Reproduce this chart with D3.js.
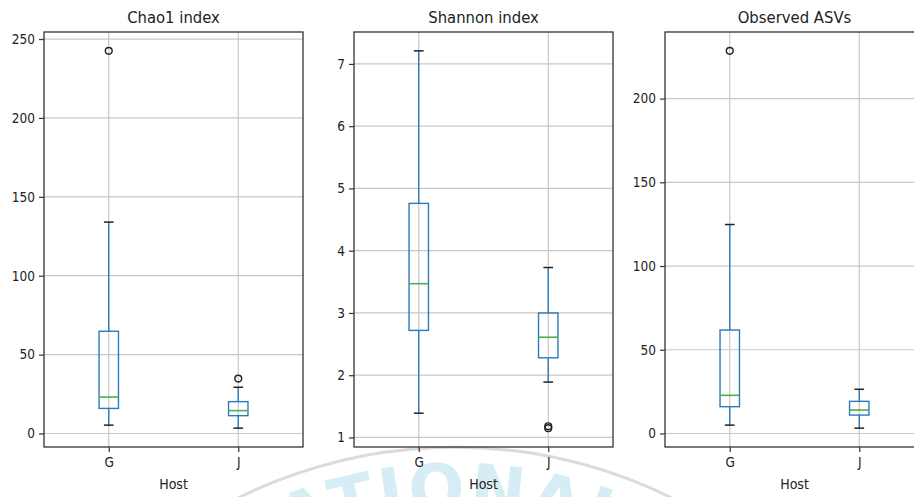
<!DOCTYPE html>
<html>
<head>
<meta charset="utf-8">
<script src="https://cdn.jsdelivr.net/npm/d3@7"></script>
<style>
  html, body { margin: 0; padding: 0; background: #fff; }
  svg { display: block; }
  text { font-family: "DejaVu Sans", sans-serif; font-stretch: condensed; }
</style>
</head>
<body>
<svg id="chart" width="914" height="497"></svg>
<script>
// Alpha-diversity by host: three box-plot panels.
const hosts = ["G", "J"];
const xLabel = "Host";
const panelTitles = ["Chao1 index", "Shannon index", "Observed ASVs"];

// Per host: [lower whisker, Q1, median, Q3, upper whisker]
const chao1Boxes = [[5.3, 15.9, 23.1, 64.8, 134.0], [3.4, 11.3, 14.5, 20.2, 29.3]];
const chao1Outliers = [[242.5], [34.8]];
const chao1Ticks = [0, 50, 100, 150, 200, 250];

const shannonBoxes = [[1.39, 2.72, 3.47, 4.76, 7.21], [1.89, 2.28, 2.61, 3.00, 3.73]];
const shannonOutliers = [[], [1.15, 1.18]];
const shannonTicks = [1, 2, 3, 4, 5, 6, 7];

const asvBoxes = [[5.0, 16.0, 22.8, 61.8, 124.8], [3.2, 11.0, 14.0, 19.2, 26.4]];
const asvOutliers = [[228.5], []];
const asvTicks = [0, 50, 100, 150, 200];

const panels = [
  { title: panelTitles[0], boxes: chao1Boxes, outliers: chao1Outliers, ticks: chao1Ticks },
  { title: panelTitles[1], boxes: shannonBoxes, outliers: shannonOutliers, ticks: shannonTicks },
  { title: panelTitles[2], boxes: asvBoxes, outliers: asvOutliers, ticks: asvTicks }
];

const svg = d3.select("#chart");

// Faint emblem in the background
const wm = svg.append("g").attr("class", "emblem");
const cx = 455, cy = 935;
wm.append("path")
  .attr("d", `M ${cx - 488},${cy} A 488 488 0 0 1 ${cx + 488},${cy}`)
  .attr("fill", "none")
  .attr("stroke", "#d2d2d2")
  .attr("stroke-width", 3)
  .attr("opacity", 0.8);
wm.append("path")
  .attr("id", "emblem-text-arc")
  .attr("d", `M ${cx - 424},${cy} A 424 424 0 0 1 ${cx + 424},${cy}`)
  .attr("fill", "none");
wm.append("text")
  .attr("font-size", 66)
  .attr("font-weight", "bold")
  .style("font-stretch", "normal")
  .attr("letter-spacing", 3)
  .attr("fill", "#d6edf5")
  .append("textPath")
  .attr("href", "#emblem-text-arc")
  .attr("startOffset", "50%")
  .attr("text-anchor", "middle")
  .text("ATIONAL");

const panelLefts = [44, 354, 665];
const panelWidth = 259;
const plotTop = 32, plotBottom = 447;
const boxWidth = 0.15, capWidth = 0.075;

const boxColor = "#2a7bbb", medianColor = "#4aae4a", capColor = "#222";

panels.forEach((p, i) => {
  const left = panelLefts[i];
  const g = svg.append("g");

  const x = d3.scaleLinear().domain([0.5, 2.5]).range([left, left + panelWidth]);

  const all = p.boxes.flat().concat(p.outliers.flat());
  const lo = d3.min(all), hi = d3.max(all), pad = (hi - lo) * 0.05;
  const y = d3.scaleLinear().domain([lo - pad, hi + pad]).range([plotBottom, plotTop]);

  // grid
  g.append("g").selectAll("line").data(p.ticks).join("line")
    .attr("x1", left).attr("x2", left + panelWidth)
    .attr("y1", d => y(d)).attr("y2", d => y(d))
    .attr("stroke", "#c8c8c8").attr("stroke-width", 1.2);
  g.append("g").selectAll("line").data(hosts).join("line")
    .attr("x1", (d, k) => x(k + 1)).attr("x2", (d, k) => x(k + 1))
    .attr("y1", plotTop).attr("y2", plotBottom)
    .attr("stroke", "#c8c8c8").attr("stroke-width", 1.2);

  // boxes
  p.boxes.forEach((b, k) => {
    const pos = k + 1;
    const [wl, q1, med, q3, wh] = b;
    const bx = g.append("g");
    bx.append("line").attr("x1", x(pos)).attr("x2", x(pos)).attr("y1", y(q3)).attr("y2", y(wh))
      .attr("stroke", boxColor).attr("stroke-width", 1.4);
    bx.append("line").attr("x1", x(pos)).attr("x2", x(pos)).attr("y1", y(q1)).attr("y2", y(wl))
      .attr("stroke", boxColor).attr("stroke-width", 1.4);
    [wl, wh].forEach(v => {
      bx.append("line")
        .attr("x1", x(pos - capWidth / 2)).attr("x2", x(pos + capWidth / 2))
        .attr("y1", y(v)).attr("y2", y(v))
        .attr("stroke", capColor).attr("stroke-width", 1.5);
    });
    bx.append("rect")
      .attr("x", x(pos - boxWidth / 2)).attr("width", x(pos + boxWidth / 2) - x(pos - boxWidth / 2))
      .attr("y", y(q3)).attr("height", y(q1) - y(q3))
      .attr("fill", "none").attr("stroke", boxColor).attr("stroke-width", 1.4);
    bx.append("line")
      .attr("x1", x(pos - boxWidth / 2)).attr("x2", x(pos + boxWidth / 2))
      .attr("y1", y(med)).attr("y2", y(med))
      .attr("stroke", medianColor).attr("stroke-width", 1.6);
    bx.selectAll("circle").data(p.outliers[k]).join("circle")
      .attr("cx", x(pos)).attr("cy", d => y(d)).attr("r", 3.4)
      .attr("fill", "none").attr("stroke", "#222").attr("stroke-width", 1.4);
  });

  // frame
  g.append("rect").attr("x", left).attr("y", plotTop)
    .attr("width", panelWidth).attr("height", plotBottom - plotTop)
    .attr("fill", "none").attr("stroke", "#333").attr("stroke-width", 1.3);

  // axes
  const ya = g.append("g").attr("transform", `translate(${left},0)`)
    .call(d3.axisLeft(y).tickValues(p.ticks).tickSize(5).tickPadding(4).tickFormat(d3.format("d")));
  const xa = g.append("g").attr("transform", `translate(0,${plotBottom})`)
    .call(d3.axisBottom(x).tickValues([1, 2]).tickSize(5).tickPadding(5).tickFormat((d) => hosts[d - 1]));
  [ya, xa].forEach(a => {
    a.select(".domain").remove();
    a.selectAll(".tick line").attr("stroke", "#333").attr("stroke-width", 1.2);
    a.selectAll(".tick text").attr("font-size", 13.5).attr("fill", "#222")
      .style("font-family", "DejaVu Sans, sans-serif");
  });

  // title and x label
  g.append("text").attr("x", left + panelWidth / 2).attr("y", 23)
    .attr("text-anchor", "middle").attr("font-size", 16.5).attr("fill", "#222")
    .text(p.title);
  g.append("text").attr("x", left + panelWidth / 2).attr("y", 489)
    .attr("text-anchor", "middle").attr("font-size", 14).attr("fill", "#222")
    .text(xLabel);
});
</script>
</body>
</html>
